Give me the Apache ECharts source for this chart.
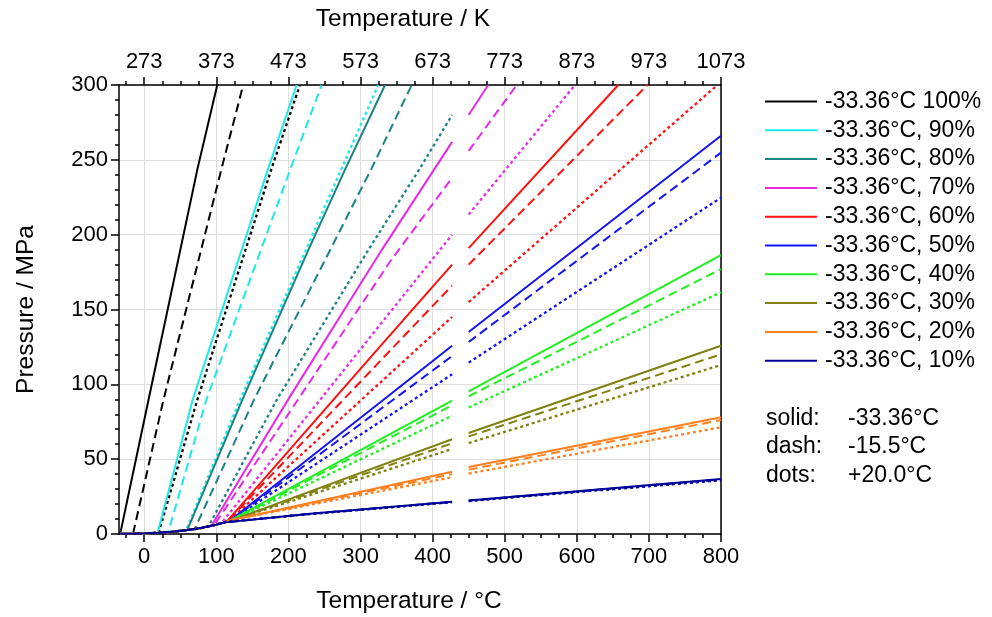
<!DOCTYPE html>
<html><head><meta charset="utf-8">
<script src="https://cdn.jsdelivr.net/npm/echarts@6/dist/echarts.min.js"></script>
<style>html,body{margin:0;padding:0;background:#fff}#c{width:992px;height:617px}</style>
</head><body><div id="c"></div>
<script>
// ---- data ----
const concentrations = ['100%','90%','80%','70%','60%','50%','40%','30%','20%','10%'];
const legendNames = ['-33.36°C 100%','-33.36°C, 90%','-33.36°C, 80%','-33.36°C, 70%','-33.36°C, 60%','-33.36°C, 50%','-33.36°C, 40%','-33.36°C, 30%','-33.36°C, 20%','-33.36°C, 10%'];
const colors = ['#000000','#1ee8e8','#1c8282','#e62ae6','#ff1010','#1414f0','#22ee22','#808010','#ff8020','#00009a'];
const fillTemps = [-33.36, -15.5, 20.0];       // solid, dash, dots
const fillLabels = ['-33.36°C', '-15.5°C', '+20.0°C'];
const styleLabels = ['solid:', 'dash:', 'dots:'];
const majorTempTicks = [0,100,200,300,400,500,600,700,800];
const minorTempTicks = [-25,0,25,50,75,100,125,150,175,200,225,250,275,300,325,350,375,400,425,450,475,500,525,550,575,600,625,650,675,700,725,750,775,800];
const kelvinOffset = 273;

// saturation curve (bottom envelope) [T °C, P MPa]
const satCurve = [[-33.36,0.10],[-15.5,0.24],[0,0.43],[20,0.86],[40,1.56],[60,2.61],[80,4.14],[100,6.25],[110,7.6],[120,9.2]];

// isochores [T °C, P MPa]; null = gap in the data
const iso100Solid = [[-33.36,0.10],[5.9,89.5],[74.0,244.3],[101.3,300]];
const iso100Dash  = [[-15.5,0.24],[26.6,89.5],[107.3,244.3],[137.3,300]];
const iso100Dot   = [[20,0.86],[73.5,89.5],[176.7,244.3],[216,300]];
const iso90Solid  = [[18.6,0.83],[67.1,89.5],[172.0,244.3],[211.4,300]];
const iso90Dash   = [[33.3,1.3],[86,89.5],[203.1,244.3],[246,300]];
const iso90Dot    = [[58,2.5],[132.7,89.5],[273.8,244.3],[324.6,300]];
const iso80Solid  = [[59.6,2.55],[135.9,89.5],[227.5,189.7],[279.3,244.3],[334,300]];
const iso80Dash   = [[70,3.3],[152,89.5],[315.4,244.3],[371,300]];
const iso80Dot    = [[89,5.0],[183.6,89.5],[310.7,189.7],[382.4,244.3],[427,280]];
const iso70Solid  = [[93,5.3],[202.1,91.8],[329.3,189.7],[427,262],null,[450,280],[477,300]];
const iso70Dash   = [[97,5.9],[340.8,181.9],[427,238],null,[450,256],[516.6,300]];
const iso70Dot    = [[107,7.2],[427,200],null,[450,213.5],[597.5,300]];
const iso60Solid  = [[115,8.6],[326.9,125.2],[427,180],null,[450,191],[657.5,300]];
const iso60Dash   = [[116,8.8],[427,166],null,[450,180],[698,300]];
const iso60Dot    = [[118,9.1],[427,145],null,[450,155],[795,300]];
const iso50Solid  = [[120,9.3],[427,125.8],null,[450,135],[800,266.1]];
const iso50Dash   = [[121,9.4],[427,118.9],null,[450,128.3],[800,254.8]];
const iso50Dot    = [[122,9.5],[427,106.7],null,[450,114.5],[800,224.7]];
const iso40Solid  = [[122,9.4],[427,89.1],null,[450,95.3],[800,186.4]];
const iso40Dash   = [[123,9.5],[427,86],null,[450,92],[800,177]];
const iso40Dot    = [[124,9.6],[427,79],null,[450,84.5],[800,161.5]];
const iso30Solid  = [[124,9.6],[427,63.3],null,[450,67.5],[800,125.8]];
const iso30Dash   = [[125,9.7],[427,60.6],null,[450,65.2],[800,120]];
const iso30Dot    = [[126,9.8],[427,56.8],null,[450,60.8],[800,112.9]];
const iso20Solid  = [[121,9.3],[427,41.6],null,[450,44.8],[800,78]];
const iso20Dash   = [[121,9.3],[427,40],null,[450,43],[800,76.2]];
const iso20Dot    = [[122,9.4],[427,37.9],null,[450,40.4],[800,71.3]];
const iso10Solid  = [[112,8.0],[230,13.6],[427,21.6],null,[450,22.4],[800,36.7]];
const iso10Dash   = [[112,8.0],[230,13.5],[427,21.5],null,[450,22.3],[800,36.5]];
const iso10Dot    = [[113,8.1],[230,13.3],[427,21.2],null,[450,22.0],[800,35.9]];

const isochores = [
  [iso100Solid, iso100Dash, iso100Dot],
  [iso90Solid, iso90Dash, iso90Dot],
  [iso80Solid, iso80Dash, iso80Dot],
  [iso70Solid, iso70Dash, iso70Dot],
  [iso60Solid, iso60Dash, iso60Dot],
  [iso50Solid, iso50Dash, iso50Dot],
  [iso40Solid, iso40Dash, iso40Dot],
  [iso30Solid, iso30Dash, iso30Dot],
  [iso20Solid, iso20Dash, iso20Dot],
  [iso10Solid, iso10Dash, iso10Dot]
];

// ---- build ----
const FONT = "'Liberation Sans', Arial, Helvetica, sans-serif";
const lineTypes = ['solid', [9,5], [3,3]];
const lineWidths = [2, 2, 2.3];

function buildData(fillT, iso) {
  const start = iso[0][0];
  const sat = satCurve.filter(p => p[0] >= fillT && p[0] < start);
  return sat.concat(iso.map(p => p === null ? ['-','-'] : p));
}

const series = [];
concentrations.forEach((c, i) => {
  [2,1,0].forEach(k => {
    series.push({
      type: 'line',
      name: k === 0 ? legendNames[i] : (fillLabels[k] + ', ' + c),
      data: buildData(fillTemps[k], isochores[i][k]),
      showSymbol: false, symbol: 'none', silent: true, clip: true,
      lineStyle: { color: colors[i], width: lineWidths[k], type: lineTypes[k] },
      itemStyle: { color: colors[i] },
      animation: false
    });
  });
});

const axisCommon = { type: 'value', min: -35, max: 800 };
const blackLine = { color: '#000', width: 1.5 };
const labelFont = 22;
const titleFont = 24.5;

const option = {
  animation: false,
  textStyle: { fontFamily: FONT },
  grid: { left: 119, right: 271, top: 85, bottom: 83, containLabel: false, outerBoundsMode: 'none' },
  xAxis: [
    Object.assign({}, axisCommon, {
      position: 'bottom',
      name: 'Temperature / °C', nameLocation: 'middle', nameGap: 55,
      nameTextStyle: { fontSize: titleFont, color: '#000', fontFamily: FONT, padding: [0, 22, 0, 0] },
      axisLine: { show: true, onZero: false, lineStyle: blackLine },
      axisTick: { show: true, customValues: majorTempTicks, length: 8, lineStyle: blackLine },
      axisLabel: { customValues: majorTempTicks, fontSize: labelFont, color: '#000', margin: 12, fontFamily: FONT },
      splitLine: { show: true, lineStyle: { color: '#dedede', width: 1 } }
    }),
    Object.assign({}, axisCommon, {
      position: 'bottom',
      axisLine: { show: false, onZero: false },
      axisTick: { show: true, customValues: minorTempTicks, length: 4, lineStyle: blackLine },
      axisLabel: { show: false },
      splitLine: { show: false }
    }),
    Object.assign({}, axisCommon, {
      position: 'top',
      name: 'Temperature / K', nameLocation: 'middle', nameGap: 53,
      nameTextStyle: { fontSize: titleFont, color: '#000', fontFamily: FONT, padding: [0, 34, 0, 0] },
      axisLine: { show: true, onZero: false, lineStyle: blackLine },
      axisTick: { show: true, customValues: majorTempTicks, length: 8, lineStyle: blackLine },
      axisLabel: { customValues: majorTempTicks, fontSize: labelFont, color: '#000', margin: 12, fontFamily: FONT,
                   formatter: v => String(Math.round(v + kelvinOffset)) },
      splitLine: { show: false }
    }),
    Object.assign({}, axisCommon, {
      position: 'top',
      axisLine: { show: false, onZero: false },
      axisTick: { show: true, customValues: minorTempTicks, length: 4, lineStyle: blackLine },
      axisLabel: { show: false },
      splitLine: { show: false }
    })
  ],
  yAxis: [
    {
      type: 'value', min: 0, max: 300, interval: 50, position: 'left',
      name: 'Pressure / MPa', nameLocation: 'middle', nameGap: 80,
      nameTextStyle: { fontSize: titleFont, color: '#000', fontFamily: FONT },
      axisLine: { show: true, onZero: false, lineStyle: blackLine },
      axisTick: { show: true, length: 8, lineStyle: blackLine },
      minorTick: { show: true, splitNumber: 5, length: 4, lineStyle: blackLine },
      axisLabel: { fontSize: labelFont, color: '#000', margin: 11, fontFamily: FONT },
      splitLine: { show: true, lineStyle: { color: '#dedede', width: 1 } }
    },
    {
      type: 'value', min: 0, max: 300, position: 'right',
      axisLine: { show: true, onZero: false, lineStyle: blackLine },
      axisTick: { show: false }, axisLabel: { show: false }, splitLine: { show: false }
    }
  ],
  legend: {
    data: legendNames, orient: 'vertical', left: 765, top: 90, padding: 0,
    icon: 'rect', itemWidth: 52, itemHeight: 2, itemGap: 5.8,
    selectedMode: false,
    textStyle: { fontSize: 23, color: '#000', lineHeight: 23, fontFamily: FONT, padding: [0,0,0,3] }
  },
  graphic: styleLabels.map((s, k) => ({
    type: 'group', left: 766, top: 407 + k * 28.5,
    children: [
      { type: 'text', x: 0, y: 0, style: { text: s, fill: '#000', font: '23px ' + FONT } },
      { type: 'text', x: 82, y: 0, style: { text: fillLabels[k], fill: '#000', font: '23px ' + FONT } }
    ]
  })),
  series: series
};

const chart = echarts.init(document.getElementById('c'), null, { renderer: 'canvas' });
chart.setOption(option);
</script>
</body></html>
